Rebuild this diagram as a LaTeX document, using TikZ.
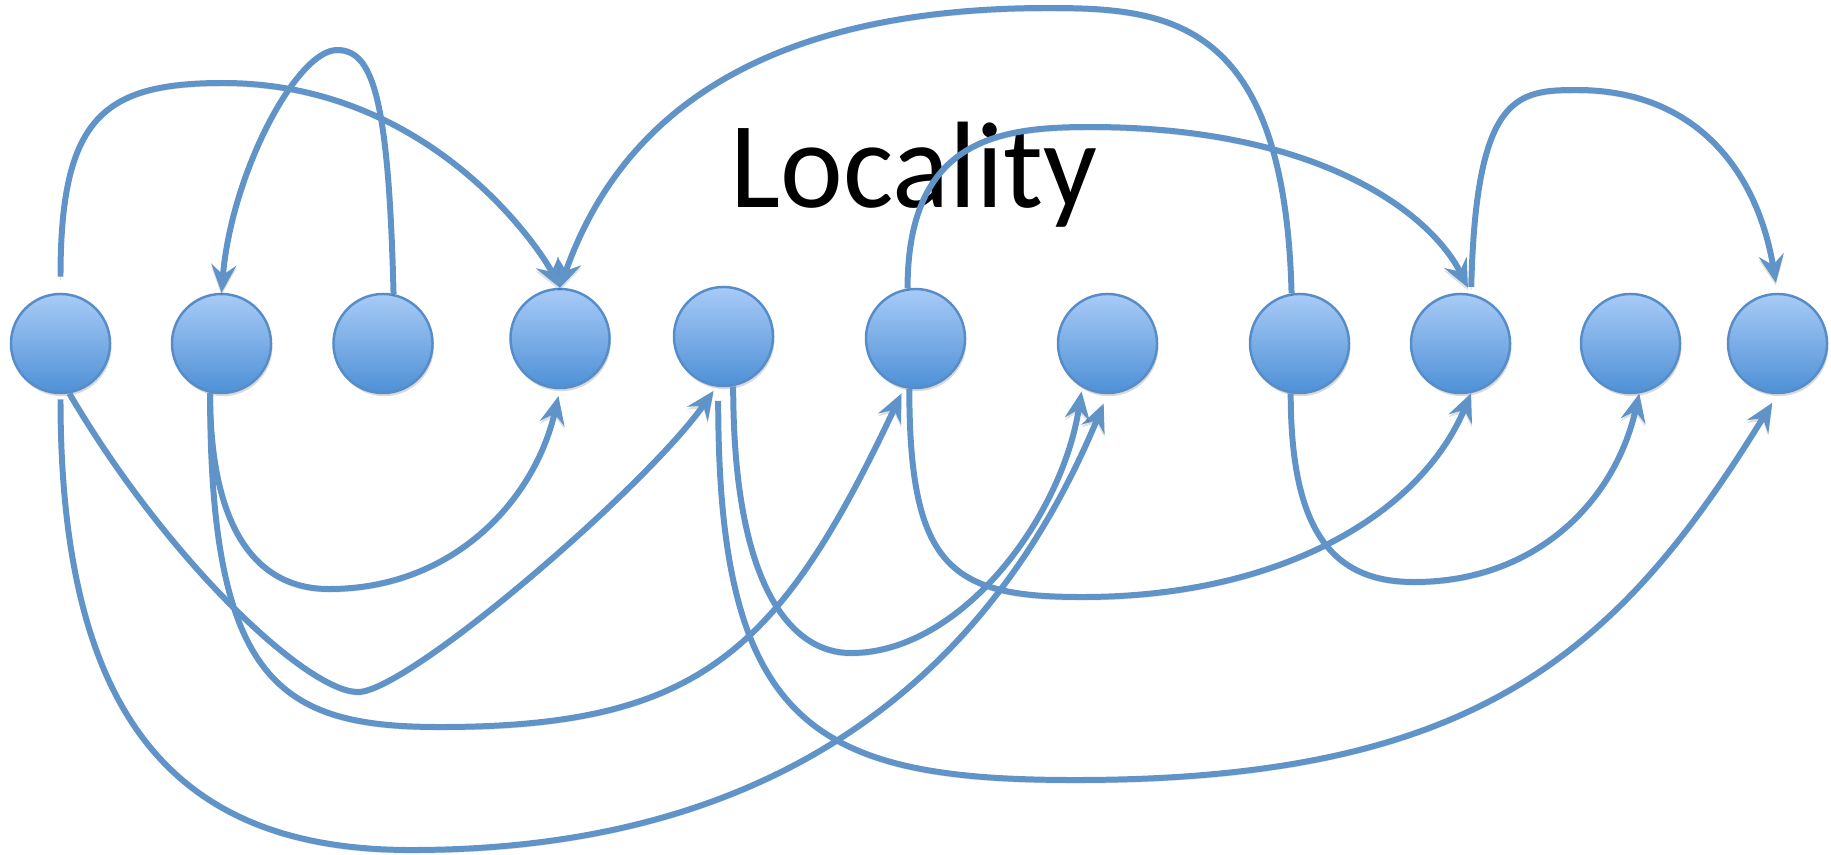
\documentclass[tikz,border=0pt]{standalone}
\usepackage{fontspec}
\setmainfont{Carlito}
\usetikzlibrary{arrows.meta,shadows,positioning}

\definecolor{linkblue}{RGB}{96,148,200}
\definecolor{balltop}{RGB}{168,203,247}
\definecolor{ballbot}{RGB}{78,144,214}
\definecolor{ballrim}{RGB}{86,140,200}

\tikzset{
  ball/.style={circle, minimum size=0.99cm, inner sep=0pt, draw=ballrim, line width=0.7pt,
    top color=balltop, bottom color=ballbot,
    drop shadow={shadow xshift=0.4pt, shadow yshift=-0.9pt, opacity=0.3}},
  link/.style={draw=linkblue, line width=1.7pt, -{Stealth[length=2.8mm, width=2.5mm, inset=1mm]},
    preaction={draw=black, opacity=0.12, transform canvas={yshift=-0.8pt}}}
}

\begin{document}
\begin{tikzpicture}[x=0.01cm, y=-0.01cm]
  \useasboundingbox (0,0) rectangle (1831,855);

  \node[ball] (n1) at (60.5,343.5) {};
  \node[ball] (n2) at (221.5,343.5) {};
  \node[ball] (n3) at (383,343.5) {};
  \node[ball] (n4) at (560,338.5) {};
  \node[ball] (n5) at (723.5,336.5) {};
  \node[ball] (n6) at (915.5,338.5) {};
  \node[ball] (n7) at (1107.5,343.5) {};
  \node[ball] (n8) at (1299.5,343.5) {};
  \node[ball] (n9) at (1460.5,343.5) {};
  \node[ball] (n10) at (1630.5,343.5) {};
  \node[ball] (n11) at (1777.5,343.5) {};

  \node[anchor=base west, inner sep=0pt, font=\fontsize{33.8}{38}\selectfont] (title) at (730,208) {\scalebox{1}[1.035]{Locality}};

  % arcs above the row
  \draw[link, shorten <=0.16cm] (n1.north) .. controls +(0,-175) and +(-120,0) .. (223,83) .. controls +(207,0) and +(-20,-39) .. (n4.north);
  \draw[link] (n3.78) .. controls +(-5,-200) and +(35,0) .. (337,50) .. controls +(-40,0) and +(10,-120) .. (n2.north);
  \draw[link] (n8.99) .. controls +(-7,-275) and +(120,0) .. (1048,8) .. controls +(-248,0) and +(70,-199) .. (n4.north);
  \draw[link, shorten >=0.07cm] (n6.99) .. controls +(0,-150) and +(-90,0) .. (1090,127) .. controls +(230,0) and +(-40,-80) .. (n9.78);
  \draw[link, shorten <=0.07cm, shorten >=0.1cm] (n9.78) .. controls +(5,-200) and +(-60,0) .. (1577,90) .. controls +(120,0) and +(-20,-120) .. (n11.north);

  % arcs below the row
  \draw[link, shorten <=0.05cm, shorten >=0.1cm] (n1.south) .. controls +(0,330) and +(-230,0) .. (411,850) .. controls +(339,0) and +(-127.5,307) .. (n7.south);
  \draw[link, shorten >=0.05cm] (n1.-80) .. controls +(100,170) and +(-50,0) .. (358,692) .. controls +(50,0) and +(-70,100) .. (n5.-98);
  \draw[link, shorten >=0.07cm] (n2.-103) .. controls +(0,140) and +(-70,0) .. (329,589) .. controls +(125,0) and +(-25,110) .. (n4.south);
  \draw[link, shorten >=0.06cm] (n2.-103) .. controls +(0,290) and +(-160,0) .. (440,727) .. controls +(260,0) and +(-124,263) .. (n6.-103);
  \draw[link, shorten >=0.04cm] (n5.-79) .. controls +(0,200) and +(-60,0) .. (851,653) .. controls +(110,0) and +(-20,130) .. (n7.-120);
  \draw[link] (n6.-97) .. controls +(0,180) and +(-130,0) .. (1082,597) .. controls +(200,0) and +(-50,120) .. (n9.-78);
  \draw[link] (n8.-100) .. controls +(0,140) and +(-80,0) .. (1414,582) .. controls +(120,0) and +(-25,110) .. (n10.-80);
  \draw[link, shorten <=0.14cm, shorten >=0.1cm] (n5.-96) .. controls +(0,340) and +(-260,0) .. (1075,780) .. controls +(400,0) and +(-160,260) .. (n11.south);
\end{tikzpicture}
\end{document}
